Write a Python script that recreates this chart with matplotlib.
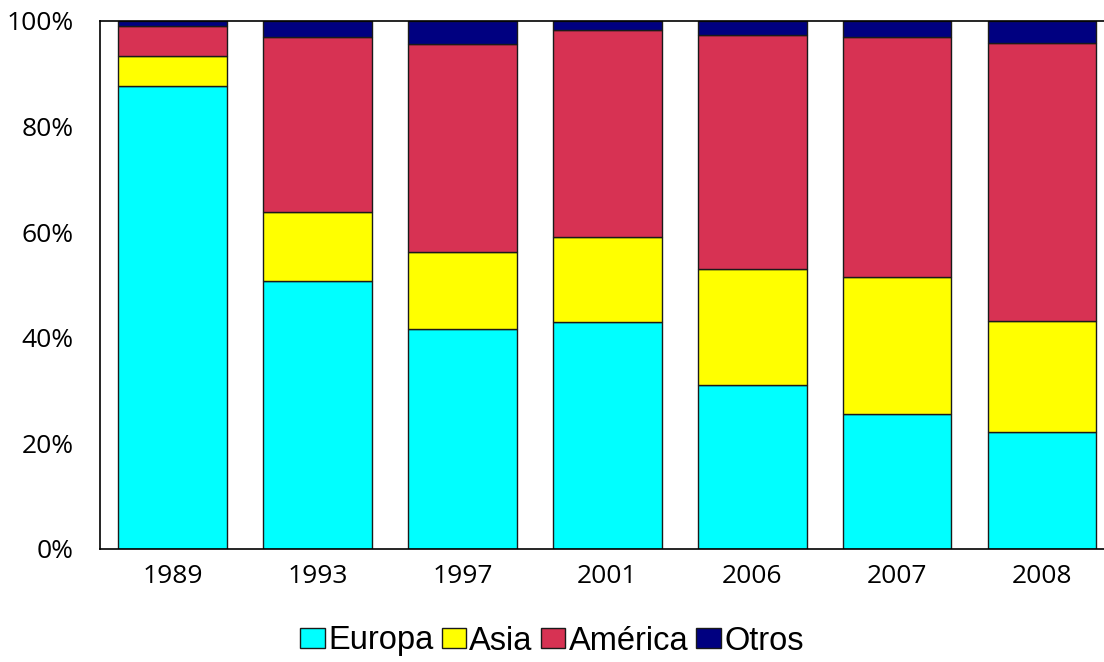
import numpy as np
import matplotlib.pyplot as plt
from matplotlib.ticker import PercentFormatter

# years and shares (%)
years = ['1989', '1993', '1997', '2001', '2006', '2007', '2008']
europa = np.array([87.6, 50.8, 41.6, 42.9, 31.1, 25.6, 22.1])
asia = np.array([5.7, 13.1, 14.6, 16.1, 21.9, 26.0, 21.0])
america = np.array([5.7, 33.1, 39.4, 39.3, 44.3, 45.4, 52.7])
otros = 100 - europa - asia - america

series = [('Europa', europa, '#00FFFF'),
          ('Asia', asia, '#FFFF00'),
          ('América', america, '#D73253'),
          ('Otros', otros, '#000080')]

fig = plt.figure(figsize=(11.04, 6.62), dpi=100)
ax = fig.add_axes([100/1104, 113/662, 1014.5/1104, 528/662])

x = np.arange(len(years))
bottom = np.zeros(len(years))
for name, vals, col in series:
    ax.bar(x, vals, 0.75, bottom=bottom, color=col, edgecolor='#1a1a1a',
           linewidth=1, label=name)
    bottom += vals

ax.set_xlim(-0.5, 6.5)
ax.set_ylim(0, 100)
ax.set_yticks([0, 20, 40, 60, 80, 100])
ax.yaxis.set_major_formatter(PercentFormatter(decimals=0))
ax.set_xticks(x)
ax.set_xticklabels(years)
ax.tick_params(length=0, labelsize=19)
ax.tick_params(axis='x', pad=11)
ax.tick_params(axis='y', pad=19)
for lab in ax.get_xticklabels() + ax.get_yticklabels():
    lab.set_family('Open Sans')
for s in ['left', 'bottom', 'top']:
    ax.spines[s].set_color('black')
    ax.spines[s].set_linewidth(1.2)
ax.spines['right'].set_visible(False)

fig.legend(loc='center', bbox_to_anchor=(0.5, 1 - 641/662), ncol=4,
           frameon=False, handlelength=0.75, handleheight=0.6,
           handletextpad=0.1, columnspacing=0.25,
           prop={'family': 'Liberation Sans', 'size': 23.5})

fig.savefig('out.png', dpi=100)
